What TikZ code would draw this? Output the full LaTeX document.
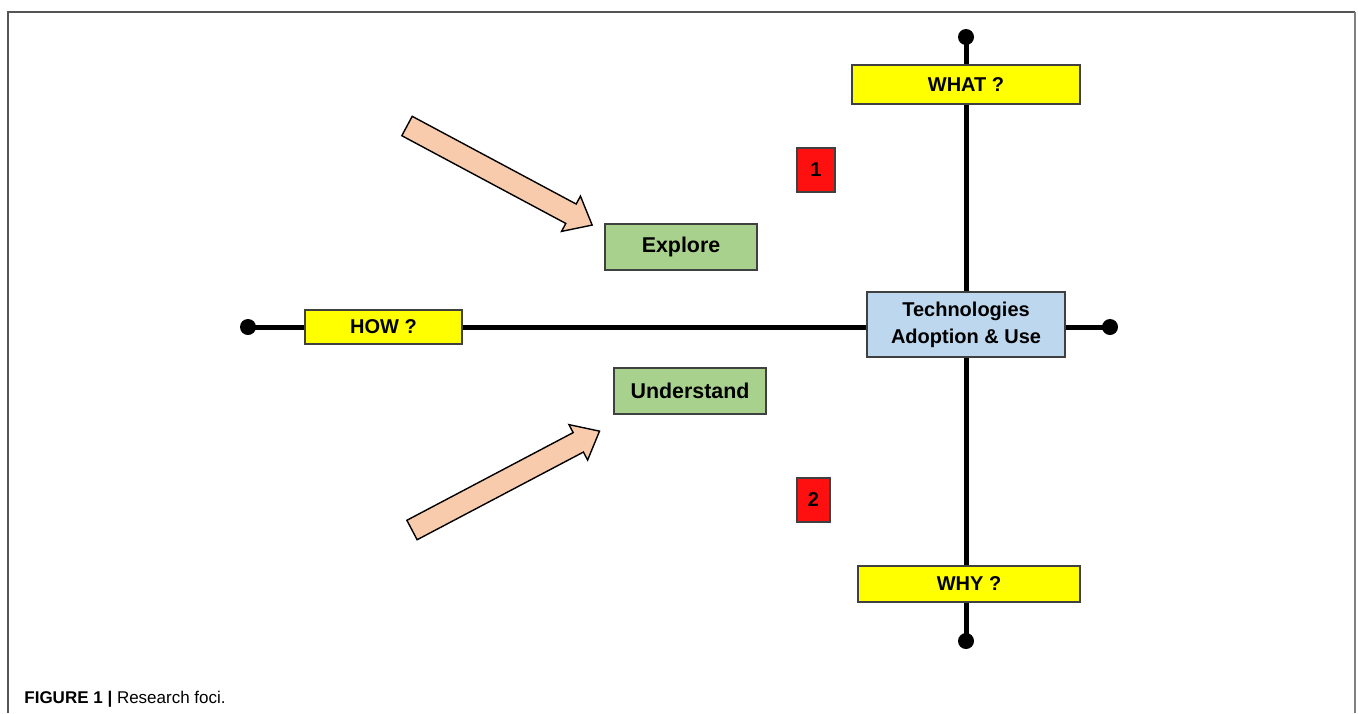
\documentclass[tikz,border=0pt]{standalone}
\usepackage{fontspec}
\setmainfont{Liberation Sans}
\definecolor{boxyellow}{HTML}{FFFF00}
\definecolor{boxblue}{HTML}{BDD7EE}
\definecolor{boxgreen}{HTML}{A9D18E}
\definecolor{boxred}{HTML}{FF1010}
\definecolor{peach}{HTML}{F8CBAD}
\definecolor{framegray}{HTML}{555555}
\begin{document}
\begin{tikzpicture}[x=0.5pt,y=-0.5pt,
  axis/.style={line width=2.5pt,black},
  enddot/.style={circle,fill=black,inner sep=0pt,minimum size=8pt},
  box/.style={draw=black!75,line width=0.6pt,inner sep=0pt,font=\bfseries\fontsize{10}{13.5}\selectfont,align=center},
  qbox/.style={box,fill=boxyellow},
  gbox/.style={box,fill=boxgreen,font=\bfseries\fontsize{10.7}{13}\selectfont,minimum width=76pt,minimum height=23pt},
  rbox/.style={box,fill=boxred,minimum height=22pt},
  fatarrow/.style={draw=black,line width=0.7pt,fill=peach,line join=miter}]
\useasboundingbox (0,0) rectangle (1358,713);
% frame
\draw[framegray,line width=0.6pt] (8,713) -- (8,12) -- (1355,12);
\draw[gray,line width=1.2pt] (1355,12) -- (1355,713);
% axes
\coordinate (vtop) at (966,37);
\coordinate (vbot) at (966,641);
\coordinate (hleft) at (248,327);
\coordinate (hright) at (1110,327);
\draw[axis] (vtop) -- (vbot);
\draw[axis] (hleft) -- (hright);
\node[enddot] (dtop) at (vtop) {};
\node[enddot] (dbot) at (vbot) {};
\node[enddot] (dleft) at (hleft) {};
\node[enddot] (dright) at (hright) {};
% boxes
\node[qbox,minimum width=114pt,minimum height=19.5pt] (what) at (966,84.5) {WHAT ?};
\node[qbox,minimum width=78.5pt,minimum height=17pt] (how) at (383.5,327) {HOW ?};
\node[qbox,minimum width=111pt,minimum height=18pt] (why) at (969,584) {WHY ?};
\node[box,fill=boxblue,minimum width=99pt,minimum height=32.5pt] (tech) at (966,324.5) {Technologies\\Adoption \& Use};
\node[gbox] (explore) at (681,247) {Explore};
\node[gbox] (understand) at (690,391) {Understand};
\node[rbox,minimum width=19pt] (one) at (816,170) {1};
\node[rbox,minimum width=16.5pt] (two) at (813.5,500) {2};
% block arrows
\begin{scope}[shift={(407,126)},rotate=-28.15]
  \draw[fatarrow] (0,-11) -- (186,-11) -- (186,-20) -- (210,0) -- (186,20) -- (186,11) -- (0,11) -- cycle;
\end{scope}
\begin{scope}[shift={(412,530)},rotate=27.8]
  \draw[fatarrow] (0,-11) -- (188,-11) -- (188,-20) -- (212,0) -- (188,20) -- (188,11) -- (0,11) -- cycle;
\end{scope}
% caption
\node[anchor=base west,inner sep=0pt,font=\fontsize{8.5}{10}\selectfont] (caption) at (24,703) {\textbf{FIGURE 1 |} Research foci.};
\end{tikzpicture}
\end{document}
